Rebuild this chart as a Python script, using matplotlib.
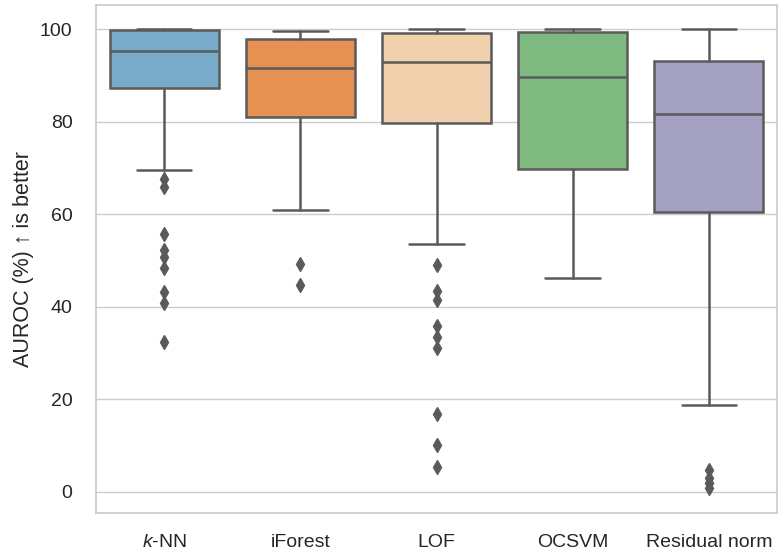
import matplotlib
matplotlib.use("Agg")
import matplotlib.pyplot as plt
import seaborn as sns

sns.set_theme(style="whitegrid")
plt.rcParams['font.family'] = ['Liberation Sans', 'DejaVu Sans']
plt.rcParams['mathtext.fontset'] = 'custom'
plt.rcParams['mathtext.it'] = 'Liberation Sans:italic'
plt.rcParams['mathtext.rm'] = 'Liberation Sans'

methods = ["$k$-NN", "iForest", "LOF", "OCSVM", "Residual norm"]
medians = [95.3, 91.6, 92.8, 89.6, 81.6]
q1 = [87.3, 81.1, 79.6, 69.8, 60.4]
q3 = [99.7, 97.8, 99.2, 99.3, 93.1]
whisker_low = [69.5, 60.8, 53.6, 46.3, 18.8]
whisker_high = [100.0, 99.6, 100.0, 100.0, 100.0]
outliers = [
    [67.6, 65.9, 55.7, 52.2, 50.8, 48.4, 43.2, 40.7, 32.3],
    [49.2, 44.7],
    [49.0, 43.4, 41.5, 35.9, 33.4, 31.0, 16.7, 10.2, 5.3],
    [],
    [4.8, 3.0, 1.8, 0.7],
]
base_colors = ["#6baed6", "#fd8d3c", "#fdd0a2", "#74c476", "#9e9ac8"]
colors = [sns.desaturate(c, 0.75) for c in base_colors]
gray = "#5a5a5a"

stats = []
for i, m in enumerate(methods):
    stats.append(dict(label=m, med=medians[i], q1=q1[i], q3=q3[i],
                      whislo=whisker_low[i], whishi=whisker_high[i],
                      fliers=outliers[i]))

fig = plt.figure(figsize=(7.79, 5.53), dpi=100)
ax = fig.add_axes([96/779, 1-513/553, (777-96)/779, (513-5)/553])

lw = 1.8
bp = ax.bxp(stats, positions=range(len(methods)), widths=0.8, patch_artist=True,
            boxprops=dict(edgecolor=gray, linewidth=lw),
            whiskerprops=dict(color=gray, linewidth=lw),
            capprops=dict(color=gray, linewidth=lw),
            medianprops=dict(color=gray, linewidth=lw),
            flierprops=dict(marker='d', markerfacecolor=gray, markeredgecolor=gray,
                            markersize=7, linestyle='none'),
            capwidths=0.4)
for patch, c in zip(bp['boxes'], colors):
    patch.set_facecolor(c)

ax.set_xlim(-0.5, len(methods) - 0.5)
ax.set_ylim(-4.6, 105.2)
ax.set_yticks([0, 20, 40, 60, 80, 100])
ax.tick_params(axis='both', labelsize=14, colors='.15')
ax.tick_params(axis='x', pad=9)
ax.tick_params(axis='y', pad=11)
ax.grid(axis='x', visible=False)
ax.set_ylabel("AUROC (%) ↑ is better", fontsize=15.5, color='.15', labelpad=4)
for s in ax.spines.values():
    s.set_color('.8')

fig.savefig("out.png", dpi=100)
